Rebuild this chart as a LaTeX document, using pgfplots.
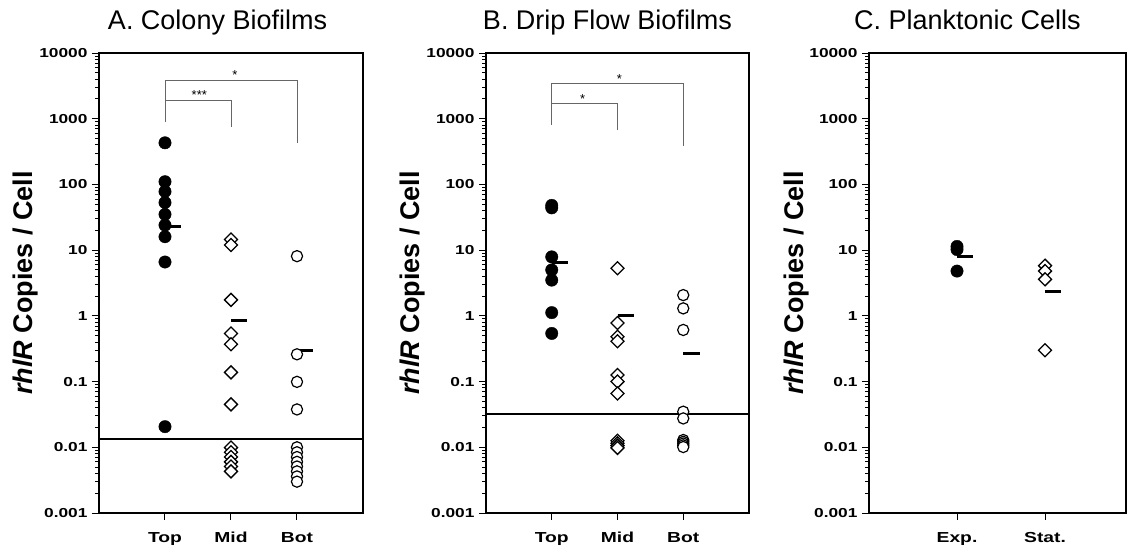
\documentclass[border=0pt]{standalone}
\usepackage{fontspec}
\setmainfont{Liberation Sans}
\usepackage{pgfplots}
\pgfplotsset{compat=1.18}
\newcommand\tk[1]{\scalebox{1.33}[1]{\bfseries #1}}
\newcommand\yk[1]{{\fontsize{13}{14}\selectfont\scalebox{1.33}[1]{\bfseries #1}}}
\newcommand\st[1]{{\fontsize{13}{13}\selectfont #1}}
\pgfplotsset{
  every axis/.append style={
    scale only axis, height=460pt,
    ymin=0.001, ymax=10000,
    ytick={0.001,0.01,0.1,1,10,100,1000,10000},
    yticklabels={\yk{0.001},\yk{0.01},\yk{0.1},\yk{1},\yk{10},\yk{100},\yk{1000},\yk{10000}},
    minor ytick={0.002,0.003,0.004,0.005,0.006,0.007,0.008,0.009,
                 0.02,0.03,0.04,0.05,0.06,0.07,0.08,0.09,
                 0.2,0.3,0.4,0.5,0.6,0.7,0.8,0.9,
                 2,3,4,5,6,7,8,9,20,30,40,50,60,70,80,90,
                 200,300,400,500,600,700,800,900,
                 2000,3000,4000,5000,6000,7000,8000,9000},
    xtick pos=left, ytick pos=left,
    tick align=outside,
    major tick length=7pt, minor tick length=4pt,
    axis line style={line width=1.4pt},
    tick style={black, line width=1pt},
    yticklabel style={xshift=-1pt},
    xticklabel style={font=\fontsize{14.5}{15}\selectfont, anchor=base, yshift=-23pt},
    ylabel={\bfseries\textit{rhlR} Copies / Cell},
    ylabel style={font=\fontsize{27}{30}\selectfont, anchor=center},
    title style={font=\fontsize{27}{30}\selectfont, anchor=base, yshift=18pt},
    clip=false,
  },
}
\tikzset{
  myfilled/.style={only marks, mark=*, mark size=6.2pt, mark options={draw=black, fill=black}},
  mydia/.style={only marks, mark=square*, mark size=4.6pt, mark options={rotate=45, draw=black, fill=white, line width=1.3pt}},
  myring/.style={only marks, mark=*, mark size=5.6pt, mark options={draw=black, fill=white, line width=1.2pt}},
  mymean/.style={black, line width=3pt},
  mythr/.style={black, line width=1.4pt},
  mybrk/.style={black!60, line width=0.8pt},
  mystar/.style={anchor=base, inner sep=0pt},
}
\begin{document}
\begin{tikzpicture}
\useasboundingbox (0,0) rectangle (1127pt,547pt);
% ---------------- A ----------------
\begin{semilogyaxis}[at={(99pt,34pt)}, anchor=south west, width=264pt,
  xmin=0, xmax=4, xtick={1,2,3}, xticklabels={\tk{Top},\tk{Mid},\tk{Bot}},
  title={A. Colony Biofilms}, title style={at={(axis description cs:0.449,1)}},
  ylabel style={at={(axis description cs:-0.2765,0.5)}}]
\addplot[myfilled] coordinates {(1,430)(1,110)(1,78)(1,53)(1,35)(1,24)(1,16)(1,6.6)(1,0.0206)};
\addplot[mydia] coordinates {(2,14.5)(2,12)(2,1.75)(2,0.54)(2,0.37)(2,0.138)(2,0.045)(2,0.0099)(2,0.0084)(2,0.0071)(2,0.006)(2,0.0051)(2,0.0043)};
\addplot[myring] coordinates {(3,8.1)(3,0.26)(3,0.099)(3,0.0377)(3,0.01)(3,0.0084)(3,0.0071)(3,0.006)(3,0.0051)(3,0.0043)(3,0.0036)(3,0.003)};
\addplot[mymean, no marks] coordinates {(1,23.3)(1.25,23.3)};
\addplot[mymean, no marks] coordinates {(2,0.84)(2.25,0.84)};
\addplot[mymean, no marks] coordinates {(3,0.294)(3.25,0.294)};
\addplot[mythr, no marks] coordinates {(0,0.0133)(4,0.0133)};
\addplot[mybrk, no marks] coordinates {(1,900)(1,3880)(3,3880)(3,431)};
\addplot[mybrk, no marks] coordinates {(1,1880)(2,1880)(2,740)};
\node[mystar] at (axis cs:1.52,1950) {\st{***}};
\node[mystar] at (axis cs:2.06,4000) {\st{*}};
\end{semilogyaxis}
% ---------------- B ----------------
\begin{semilogyaxis}[at={(486pt,34pt)}, anchor=south west, width=263pt,
  xmin=0, xmax=4, xtick={1,2,3}, xticklabels={\tk{Top},\tk{Mid},\tk{Bot}},
  title={B. Drip Flow Biofilms}, title style={at={(axis description cs:0.462,1)}},
  ylabel style={at={(axis description cs:-0.2776,0.5)}}]
\addplot[myfilled] coordinates {(1,48)(1,44)(1,7.9)(1,5.0)(1,3.5)(1,1.12)(1,0.54)};
\addplot[mydia] coordinates {(2,5.3)(2,0.78)(2,0.48)(2,0.41)(2,0.126)(2,0.1)(2,0.066)(2,0.0126)(2,0.0115)(2,0.0106)(2,0.0098)};
\addplot[myring] coordinates {(3,2.07)(3,1.3)(3,0.61)(3,0.0348)(3,0.0275)(3,0.0129)(3,0.0121)(3,0.0114)(3,0.0107)(3,0.0101)};
\addplot[mymean, no marks] coordinates {(1,6.44)(1.25,6.44)};
\addplot[mymean, no marks] coordinates {(2,1.02)(2.25,1.02)};
\addplot[mymean, no marks] coordinates {(3,0.269)(3.25,0.269)};
\addplot[mythr, no marks] coordinates {(0,0.032)(4,0.032)};
\addplot[mybrk, no marks] coordinates {(1,802)(1,3460)(3,3460)(3,384)};
\addplot[mybrk, no marks] coordinates {(1,1715)(2,1715)(2,673)};
\node[mystar] at (axis cs:1.47,1720) {\st{*}};
\node[mystar] at (axis cs:2.03,3480) {\st{*}};
\end{semilogyaxis}
% ---------------- C ----------------
\begin{semilogyaxis}[at={(869pt,34pt)}, anchor=south west, width=257pt,
  xmin=0, xmax=2.92, xtick={1,2}, xticklabels={\tk{Exp.},\tk{Stat.}},
  title={C. Planktonic Cells}, title style={at={(axis description cs:0.383,1)}},
  ylabel style={at={(axis description cs:-0.284,0.5)}}]
\addplot[myfilled] coordinates {(1,11.4)(1,10.2)(1,4.8)};
\addplot[mydia] coordinates {(2,5.8)(2,4.8)(2,3.6)(2,0.30)};
\addplot[mymean, no marks] coordinates {(1,8.1)(1.18,8.1)};
\addplot[mymean, no marks] coordinates {(2,2.33)(2.18,2.33)};
\end{semilogyaxis}
\end{tikzpicture}
\end{document}
